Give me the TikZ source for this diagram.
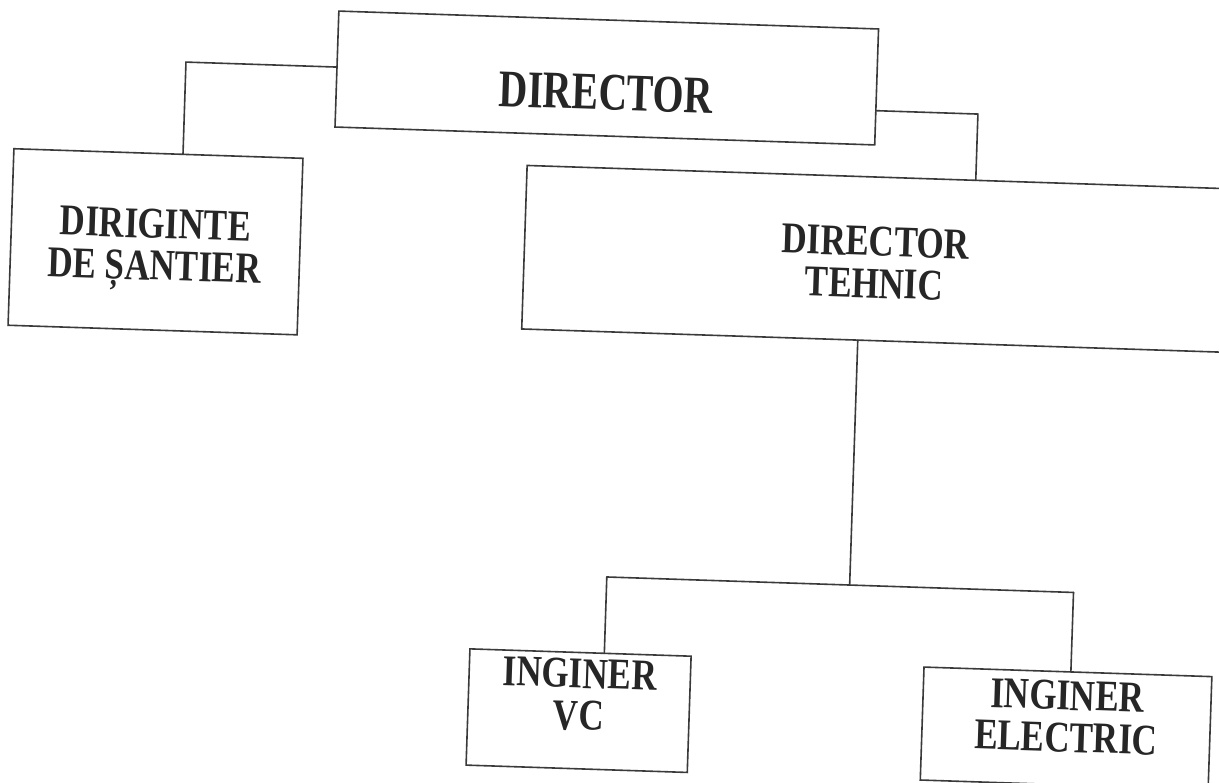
\documentclass[tikz,border=0pt]{standalone}
\usepackage{fontspec}
\setmainfont{Liberation Serif}
\newfontfamily\mainlblfont[FakeStretch=0.754]{Liberation Serif}
\newfontfamily\seclblfont[FakeStretch=0.80]{Liberation Serif}
\usetikzlibrary{calc}
\definecolor{inkline}{HTML}{3A3A3A}
\definecolor{inktext}{HTML}{262626}
\newcommand{\twolines}[2]{\begin{tabular}[t]{@{}c@{}}#1\\#2\end{tabular}}
\begin{document}
\begin{tikzpicture}[x=0.5pt,y=-0.5pt,
  box/.style={draw=inkline, line width=0.8pt, rectangle, outer sep=0pt, inner sep=0pt},
  mainlbl/.style={font=\mainlblfont\bfseries\fontsize{26.4}{30}\selectfont, text=inktext, inner sep=0pt, anchor=base},
  seclbl/.style={font=\seclblfont\bfseries\fontsize{21.9}{21}\selectfont, text=inktext, inner sep=0pt, anchor=base},
  link/.style={draw=inkline, line width=0.8pt, line cap=round}]
\useasboundingbox (0,0) rectangle (1219,782);
\fill[white] (0,0) rectangle (1219,782);
\clip (0,0) rectangle (1219,782);
\begin{scope}[rotate around={-1.9:(609.5,391)}, transform shape]
  % boxes
  \node[box, minimum width=270pt, minimum height=58pt] (dir) at (596.4,78.25) {};
  \node[box, minimum width=144.6pt, minimum height=88.3pt] (dsant) at (150.8,256.9) {};
  \node[box, minimum width=350.9pt, minimum height=81.8pt] (tehn) at (870.6,250.1) {};
  \node[box, minimum width=110.65pt, minimum height=58.15pt] (vc) at (589.2,711.5) {};
  \node[box, minimum width=144pt, minimum height=56.5pt] (elec) at (1077,713) {};
  % labels
  \node[mainlbl] (dirt) at (596.2,110.3) {DIRECTOR};
  \node[seclbl] (dsantt) at (150.4,253.2) {\twolines{DIRIGINTE}{DE ȘANTIER}};
  \node[seclbl] (tehnt) at (870.6,247.2) {\twolines{DIRECTOR}{TEHNIC}};
  \node[seclbl] (vct) at (589.5,688.8) {\twolines{INGINER}{VC}};
  \node[seclbl] (elect) at (1077.3,694.6) {\twolines{INGINER}{ELECTRIC}};
  % elbow points
  \coordinate (jl) at (175.3,76.3);
  \coordinate (jr) at (968.6,102);
  \coordinate (jm) at (856,577);
  \coordinate (jv) at (613,577);
  \coordinate (je) at (1080,577);
  % connectors
  \draw[link] ($(dir.north west)!0.483!(dir.south west)$) -- (jl)
              -- ($(dsant.north west)!0.585!(dsant.north east)$);
  \draw[link] ($(dir.north east)!0.7046!(dir.south east)$) -- (jr)
              -- ($(tehn.north west)!0.6397!(tehn.north east)$);
  \draw[link] ($(tehn.south west)!0.4792!(tehn.south east)$) -- (jm);
  \draw[link] (jv) -- (je);
  \draw[link] (jv) -- ($(vc.north west)!0.6078!(vc.north east)$);
  \draw[link] (je) -- ($(elec.north west)!0.5104!(elec.north east)$);
\end{scope}
\end{tikzpicture}
\end{document}
